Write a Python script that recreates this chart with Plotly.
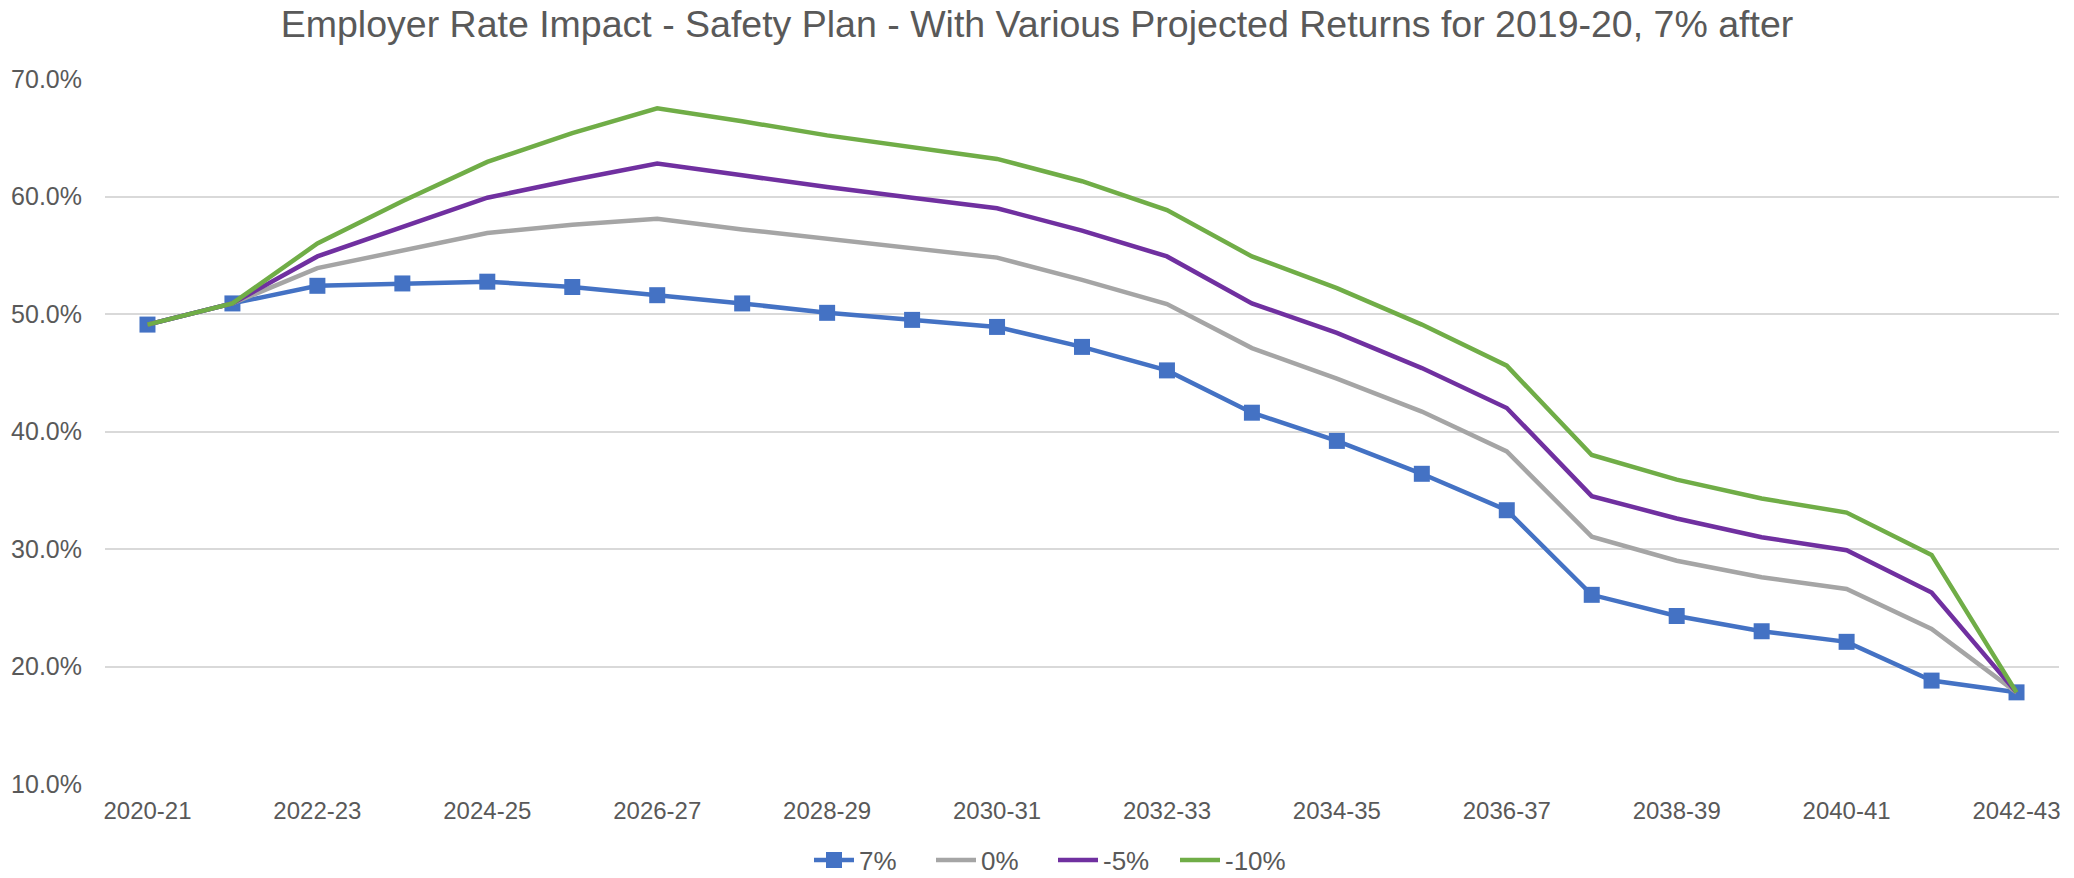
import plotly.graph_objects as go

years = ["2020-21", "2021-22", "2022-23", "2023-24", "2024-25", "2025-26", "2026-27",
         "2027-28", "2028-29", "2029-30", "2030-31", "2031-32", "2032-33", "2033-34",
         "2034-35", "2035-36", "2036-37", "2037-38", "2038-39", "2039-40", "2040-41",
         "2041-42", "2042-43"]

r7 = [49.1, 50.9, 52.4, 52.6, 52.75, 52.3, 51.6, 50.9, 50.1, 49.5, 48.9, 47.2, 45.2,
      41.6, 39.2, 36.4, 33.3, 26.1, 24.3, 23.0, 22.1, 18.8, 17.8]
r0 = [49.1, 50.9, 53.9, 55.4, 56.9, 57.6, 58.1, 57.2, 56.4, 55.6, 54.8, 52.9, 50.85,
      47.1, 44.5, 41.7, 38.3, 31.05, 29.0, 27.6, 26.6, 23.2, 17.8]
rm5 = [49.1, 50.9, 54.9, 57.4, 59.9, 61.4, 62.8, 61.8, 60.8, 59.9, 59.0, 57.1, 54.9,
       50.9, 48.4, 45.4, 42.0, 34.5, 32.6, 31.0, 29.9, 26.3, 17.8]
rm10 = [49.1, 50.9, 56.0, 59.6, 62.95, 65.4, 67.5, 66.4, 65.2, 64.2, 63.2, 61.3, 58.85,
        54.9, 52.2, 49.1, 45.6, 38.0, 35.9, 34.3, 33.1, 29.5, 17.8]

series = [
    ("7%", r7, "#4472C4", True),
    ("0%", r0, "#A5A5A5", False),
    ("-5%", rm5, "#7030A0", False),
    ("-10%", rm10, "#70AD47", False),
]

title_text = "Employer Rate Impact - Safety Plan - With Various Projected Returns for 2019-20, 7% after"

FONT = "Liberation Sans, Arial, sans-serif"
TXT = "#595959"

fig = go.Figure()
for name, vals, color, marker in series:
    fig.add_trace(go.Scatter(
        x=years, y=[v / 100 for v in vals], name=name,
        mode="lines+markers" if marker else "lines",
        line=dict(color=color, width=4.5),
        marker=dict(symbol="square", size=16, color=color),
    ))

W, H = 2074, 878
L, R, T, B = 105, 15, 79, 94
fig.update_layout(
    width=W, height=H,
    margin=dict(l=L, r=R, t=T, b=B, autoexpand=False),
    paper_bgcolor="white", plot_bgcolor="white",
    font=dict(family=FONT, size=24, color=TXT),
    title=dict(text=title_text, x=0.5, xref="container", xanchor="center",
               y=1 - 24 / H, yref="container", yanchor="middle",
               font=dict(family=FONT, size=37.5, color=TXT)),
    showlegend=True,
    legend=dict(orientation="h", x=1053 / W, xref="container", xanchor="center",
                y=1 - 860 / H, yref="container", yanchor="middle",
                font=dict(family=FONT, size=26, color=TXT),
                itemwidth=40, traceorder="normal", tracegroupgap=0,
                entrywidth=67, entrywidthmode="pixels"),
    hovermode=False,
)
fig.update_xaxes(
    type="category", categoryorder="array", categoryarray=years,
    range=[-0.5, len(years) - 0.5],
    tickmode="array", tickvals=years[::2], ticktext=years[::2],
    showgrid=False, showline=False, zeroline=False, ticks="",
    ticklabelstandoff=10, automargin=False,
    tickfont=dict(family=FONT, size=24, color=TXT),
)
fig.update_yaxes(
    range=[0.10, 0.70], dtick=0.10, tick0=0.10, tickformat=".1%",
    showgrid=True, gridcolor="#D9D9D9", gridwidth=2,
    showline=False, zeroline=False, ticks="",
    ticklabelstandoff=22, automargin=False,
    tickfont=dict(family=FONT, size=25, color=TXT),
)

fig.write_html(
    "out.html",
    config={"displayModeBar": False},
    post_script="document.body.style.margin='0';document.body.style.overflow='hidden';",
)
